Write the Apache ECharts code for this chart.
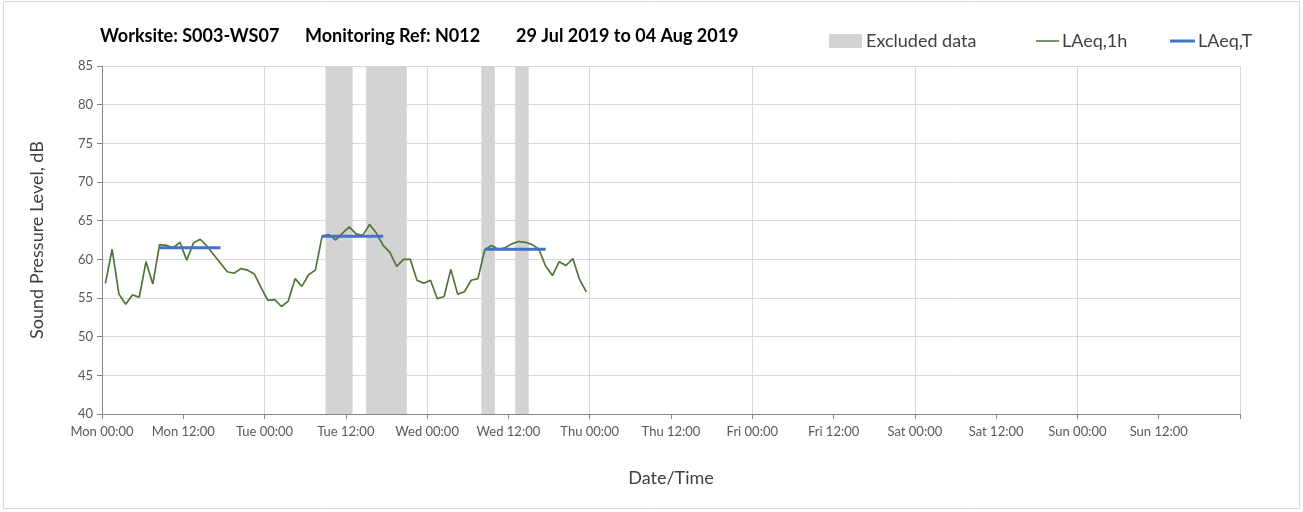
<!DOCTYPE html>
<html>
<head>
<meta charset="utf-8">
<script src="https://cdn.jsdelivr.net/npm/echarts@6/dist/echarts.min.js"></script>
<style>
  html, body { margin: 0; padding: 0; background: #ffffff; }
  #chart { width: 1303px; height: 512px; }
</style>
</head>
<body>
<div id="chart"></div>
<script>
// Hourly LAeq,1h readings, Monday 00:00 onward (one value per hour)
const laeq1h = [
  56.9, 61.3, 55.5, 54.2, 55.4, 55.1, 59.7, 56.8, 61.9, 61.8, 61.5, 62.2,
  59.9, 62.1, 62.6, 61.7, 60.6, 59.5, 58.4, 58.2, 58.8, 58.6, 58.1, 56.3,
  54.7, 54.8, 53.9, 54.6, 57.5, 56.5, 58.0, 58.6, 63.0, 63.2, 62.5, 63.4,
  64.2, 63.3, 63.1, 64.5, 63.4, 61.8, 60.9, 59.1, 60.0, 60.0, 57.3, 56.9,
  57.3, 54.9, 55.2, 58.7, 55.5, 55.8, 57.3, 57.5, 61.2, 61.8, 61.3, 61.5,
  62.0, 62.3, 62.2, 61.9, 61.3, 59.1, 57.9, 59.7, 59.2, 60.1, 57.4, 55.8
];

// Excluded periods, hours from Monday 00:00
const excludedStart = [33, 39, 56, 61];
const excludedEnd = [37, 45, 58, 63];

// LAeq,T periods: first and last hourly reading covered, and the level
const periodFirstHour = [8, 32, 56];
const periodLastHour = [17, 41, 65];
const laeqT = [61.5, 63.0, 61.3];

// Axis tick labels every 12 hours
const tickLabels = [
  'Mon 00:00', 'Mon 12:00', 'Tue 00:00', 'Tue 12:00', 'Wed 00:00', 'Wed 12:00',
  'Thu 00:00', 'Thu 12:00', 'Fri 00:00', 'Fri 12:00', 'Sat 00:00', 'Sat 12:00',
  'Sun 00:00', 'Sun 12:00'
];

const titleParts = ['Worksite: S003-WS07', 'Monitoring Ref: N012', '29 Jul 2019 to 04 Aug 2019'];
const seriesNames = ['Excluded data', 'LAeq,1h', 'LAeq,T'];

const FONT = 'Lato, "Open Sans", sans-serif';
const colors = { excluded: '#d3d3d3', hourly: '#4f7535', total: '#4472c4' };

// Each hourly value sits at the middle of its hour
const hourlyData = laeq1h.map((v, i) => [i + 0.5, v]);

const periodData = [];
laeqT.forEach((v, k) => {
  periodData.push([periodFirstHour[k] + 0.5, v]);
  periodData.push([periodLastHour[k] + 0.5, v]);
  periodData.push([periodLastHour[k] + 0.5, '-']);
});

const excludedData = excludedStart.map((s, k) => [s, excludedEnd[k]]);

const chart = echarts.init(document.getElementById('chart'), null, { renderer: 'canvas' });

const titleLefts = [100, 305, 516];

chart.setOption({
  animation: false,
  backgroundColor: '#ffffff',
  textStyle: { fontFamily: FONT },
  title: titleParts.map((t, i) => ({
    text: t,
    left: titleLefts[i],
    top: 27,
    padding: 0,
    textStyle: { fontFamily: FONT, fontSize: 18, fontWeight: 'bold', color: '#000000' }
  })),
  grid: { left: 102, right: 63, top: 66, bottom: 98, containLabel: false },
  xAxis: [
    {
      type: 'value', min: 0, max: 168, interval: 12,
      axisLine: { show: true, lineStyle: { color: '#868686', width: 1 } },
      axisTick: { show: true, length: 5, lineStyle: { color: '#868686' } },
      splitLine: { show: false },
      axisLabel: {
        color: '#595959', fontSize: 13, margin: 11, fontFamily: FONT,
        formatter: v => tickLabels[Math.round(v / 12)] || ''
      },
      name: 'Date/Time', nameLocation: 'middle', nameGap: 55,
      nameTextStyle: { color: '#404040', fontSize: 18, fontFamily: FONT }
    },
    {
      // day boundaries for the vertical gridlines
      type: 'value', min: 0, max: 168, interval: 24, position: 'bottom',
      axisLine: { show: false }, axisTick: { show: false }, axisLabel: { show: false },
      splitLine: { show: true, lineStyle: { color: '#d9d9d9', width: 1 } }
    }
  ],
  yAxis: {
    type: 'value', min: 40, max: 85, interval: 5,
    axisLine: { show: true, lineStyle: { color: '#868686', width: 1 } },
    axisTick: { show: true, length: 5, lineStyle: { color: '#868686' } },
    splitLine: { show: true, lineStyle: { color: '#d9d9d9', width: 1 } },
    axisLabel: { color: '#595959', fontSize: 13, margin: 9, fontFamily: FONT },
    name: 'Sound Pressure Level, dB', nameLocation: 'middle', nameGap: 56,
    nameTextStyle: { color: '#404040', fontSize: 18, fontFamily: FONT }
  },
  series: [
    {
      name: seriesNames[0],
      type: 'custom',
      xAxisIndex: 0,
      encode: { x: [0, 1] },
      silent: true,
      z: 1,
      data: excludedData,
      renderItem: (params, api) => {
        const p0 = api.coord([api.value(0), 85]);
        const p1 = api.coord([api.value(1), 40]);
        return {
          type: 'rect',
          shape: { x: p0[0], y: p0[1], width: p1[0] - p0[0], height: p1[1] - p0[1] },
          style: { fill: colors.excluded }
        };
      }
    },
    {
      name: seriesNames[1],
      type: 'line',
      xAxisIndex: 0,
      data: hourlyData,
      showSymbol: false,
      z: 3,
      lineStyle: { color: colors.hourly, width: 1.7 },
      itemStyle: { color: colors.hourly }
    },
    {
      name: seriesNames[2],
      type: 'line',
      xAxisIndex: 0,
      data: periodData,
      showSymbol: false,
      connectNulls: false,
      z: 4,
      lineStyle: { color: colors.total, width: 3, cap: 'butt' },
      itemStyle: { color: colors.total }
    }
  ],
  graphic: [
    // outer frame
    { type: 'rect', silent: true, z: -10,
      shape: { x: 3.5, y: 1.5, width: 1296, height: 507 },
      style: { fill: null, stroke: '#d9d9d9', lineWidth: 1 } },
    // legend
    { type: 'rect', shape: { x: 829, y: 34, width: 33, height: 14 }, style: { fill: colors.excluded } },
    { type: 'text', x: 866, y: 41, style: { text: seriesNames[0], fill: '#404040', font: '18px ' + FONT, textVerticalAlign: 'middle' } },
    { type: 'line', shape: { x1: 1036, y1: 41, x2: 1059, y2: 41 }, style: { stroke: colors.hourly, lineWidth: 1.5 } },
    { type: 'text', x: 1062, y: 41, style: { text: seriesNames[1], fill: '#404040', font: '18px ' + FONT, textVerticalAlign: 'middle' } },
    { type: 'line', shape: { x1: 1170, y1: 41, x2: 1195, y2: 41 }, style: { stroke: colors.total, lineWidth: 3 } },
    { type: 'text', x: 1198, y: 41, style: { text: seriesNames[2], fill: '#404040', font: '18px ' + FONT, textVerticalAlign: 'middle' } }
  ]
});
</script>
</body>
</html>
